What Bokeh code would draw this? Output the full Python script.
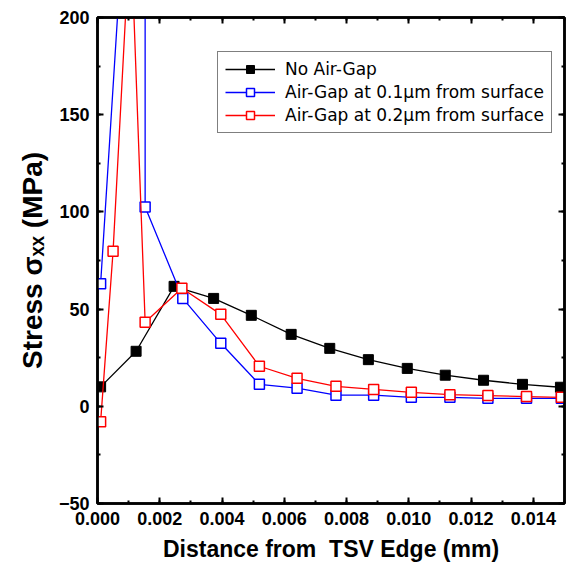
from bokeh.plotting import figure
from bokeh.models import (Range1d, LinearAxis, SingleIntervalTicker, PrintfTickFormatter,
                          Legend, LegendItem, CustomLabelingPolicy)
from bokeh.embed import file_html
from bokeh.resources import INLINE

# ---- data ----
x_noair = [0.0001, 0.00124, 0.00246, 0.00373, 0.00494, 0.00622, 0.00746, 0.0087,
           0.00995, 0.01117, 0.0124, 0.01365, 0.01487]
y_noair = [10, 28.3, 61.7, 55.5, 46.8, 37, 29.8, 24, 19.5, 16, 13.4, 11.3, 9.8]

x_gap01 = [0.0001, 0.00153, 0.00153, 0.00274, 0.00396, 0.0052, 0.00641, 0.00766,
           0.00887, 0.01008, 0.01132, 0.01254, 0.01378, 0.0149]
y_gap01 = [63, 425, 102.5, 55.5, 32.4, 11.3, 9.3, 5.7, 5.7, 4.6, 4.6, 4.1, 4.1, 4.1]

x_gap02 = [0.0001, 0.0005, 0.00106, 0.00153, 0.00271, 0.00396, 0.0052, 0.00641,
           0.00766, 0.00887, 0.01008, 0.01132, 0.01254, 0.01378, 0.0149]
y_gap02 = [-8, 79.7, 249, 43.2, 60.7, 47.3, 20.6, 14.4, 10.3, 8.7, 7.2, 6.0, 5.5, 5.0, 4.6]

labels = ["No Air-Gap", "Air-Gap at 0.1\u00b5m from surface", "Air-Gap at 0.2\u00b5m from surface"]
colors = ["black", "#0000FF", "#FF0000"]

x_title = "Distance from \u00a0TSV Edge (mm)"
y_title = "Stress \u03c3\u2093\u2093 (MPa)"

FONT = "Liberation Sans"

p = figure(width=569, height=569, output_backend="svg", toolbar_location=None,
           x_range=Range1d(0, 0.015), y_range=Range1d(-50, 200),
           min_border_left=97, min_border_right=0, min_border_top=17, min_border_bottom=66)
p.grid.visible = False
p.outline_line_color = "black"
p.outline_line_width = 2.5
p.background_fill_color = "white"
p.border_fill_color = "white"

xt = SingleIntervalTicker(interval=0.002, num_minor_ticks=2)
yt = SingleIntervalTicker(interval=50, num_minor_ticks=2)
p.xaxis.ticker = xt
p.yaxis.ticker = yt
p.xaxis.formatter = PrintfTickFormatter(format="%.3f")

for ax in (p.xaxis[0], p.yaxis[0]):
    ax.axis_line_width = 2.5
    ax.major_tick_in = 6
    ax.major_tick_out = 0
    ax.minor_tick_in = 3
    ax.minor_tick_out = 0
    ax.major_tick_line_width = 2
    ax.minor_tick_line_width = 2
    ax.major_label_text_font = FONT
    ax.major_label_text_font_style = "bold"
    ax.major_label_text_font_size = "18px"
    ax.major_label_text_color = "black"
    ax.axis_label_text_font = FONT
    ax.axis_label_text_font_style = "bold"
    ax.axis_label_text_color = "black"

p.xaxis.axis_label = x_title
p.yaxis.axis_label = y_title
p.xaxis.axis_label_text_font_size = "23px"
p.yaxis.axis_label_text_font_size = "28px"
p.xaxis.major_label_standoff = 8
p.xaxis.axis_label_standoff = 8
p.yaxis.major_label_standoff = 8
p.yaxis.axis_label_standoff = 8

hide_all = CustomLabelingPolicy(code="""
for (const i of [...indices]) { indices.unset(i) }
return indices
""")

for loc, tk in (("above", xt), ("right", yt)):
    ax = LinearAxis(ticker=tk, axis_line_width=2.5, major_label_policy=hide_all,
                    major_label_text_font_size="1px",
                    major_tick_in=6, major_tick_out=0, minor_tick_in=3, minor_tick_out=0,
                    major_tick_line_width=2, minor_tick_line_width=2, major_label_standoff=0)
    p.add_layout(ax, loc)

items = []
series = [(x_noair, y_noair), (x_gap01, y_gap01), (x_gap02, y_gap02)]
for i, ((xs, ys), lab, col) in enumerate(zip(series, labels, colors)):
    ln = p.line(xs, ys, line_color=col, line_width=1.3)
    if i == 0:
        sc = p.scatter(xs, ys, marker="square", size=10, fill_color="black", line_color="black")
    else:
        sc = p.scatter(xs, ys, marker="square", size=10, fill_color="white",
                       line_color=col, line_width=1.5)
    items.append(LegendItem(label=lab, renderers=[ln, sc]))

legend = Legend(items=items, location=(120, 370))
legend.label_text_font = "DejaVu Sans"
legend.label_text_font_size = "17px"
legend.label_text_color = "black"
legend.glyph_width = 50
legend.glyph_height = 20
legend.label_standoff = 10
legend.spacing = 3
legend.padding = 7
legend.margin = 0
legend.border_line_color = "black"
legend.border_line_width = 1.5
legend.background_fill_alpha = 1
p.add_layout(legend, "center")

open("out.html", "w").write(file_html(p, INLINE))
